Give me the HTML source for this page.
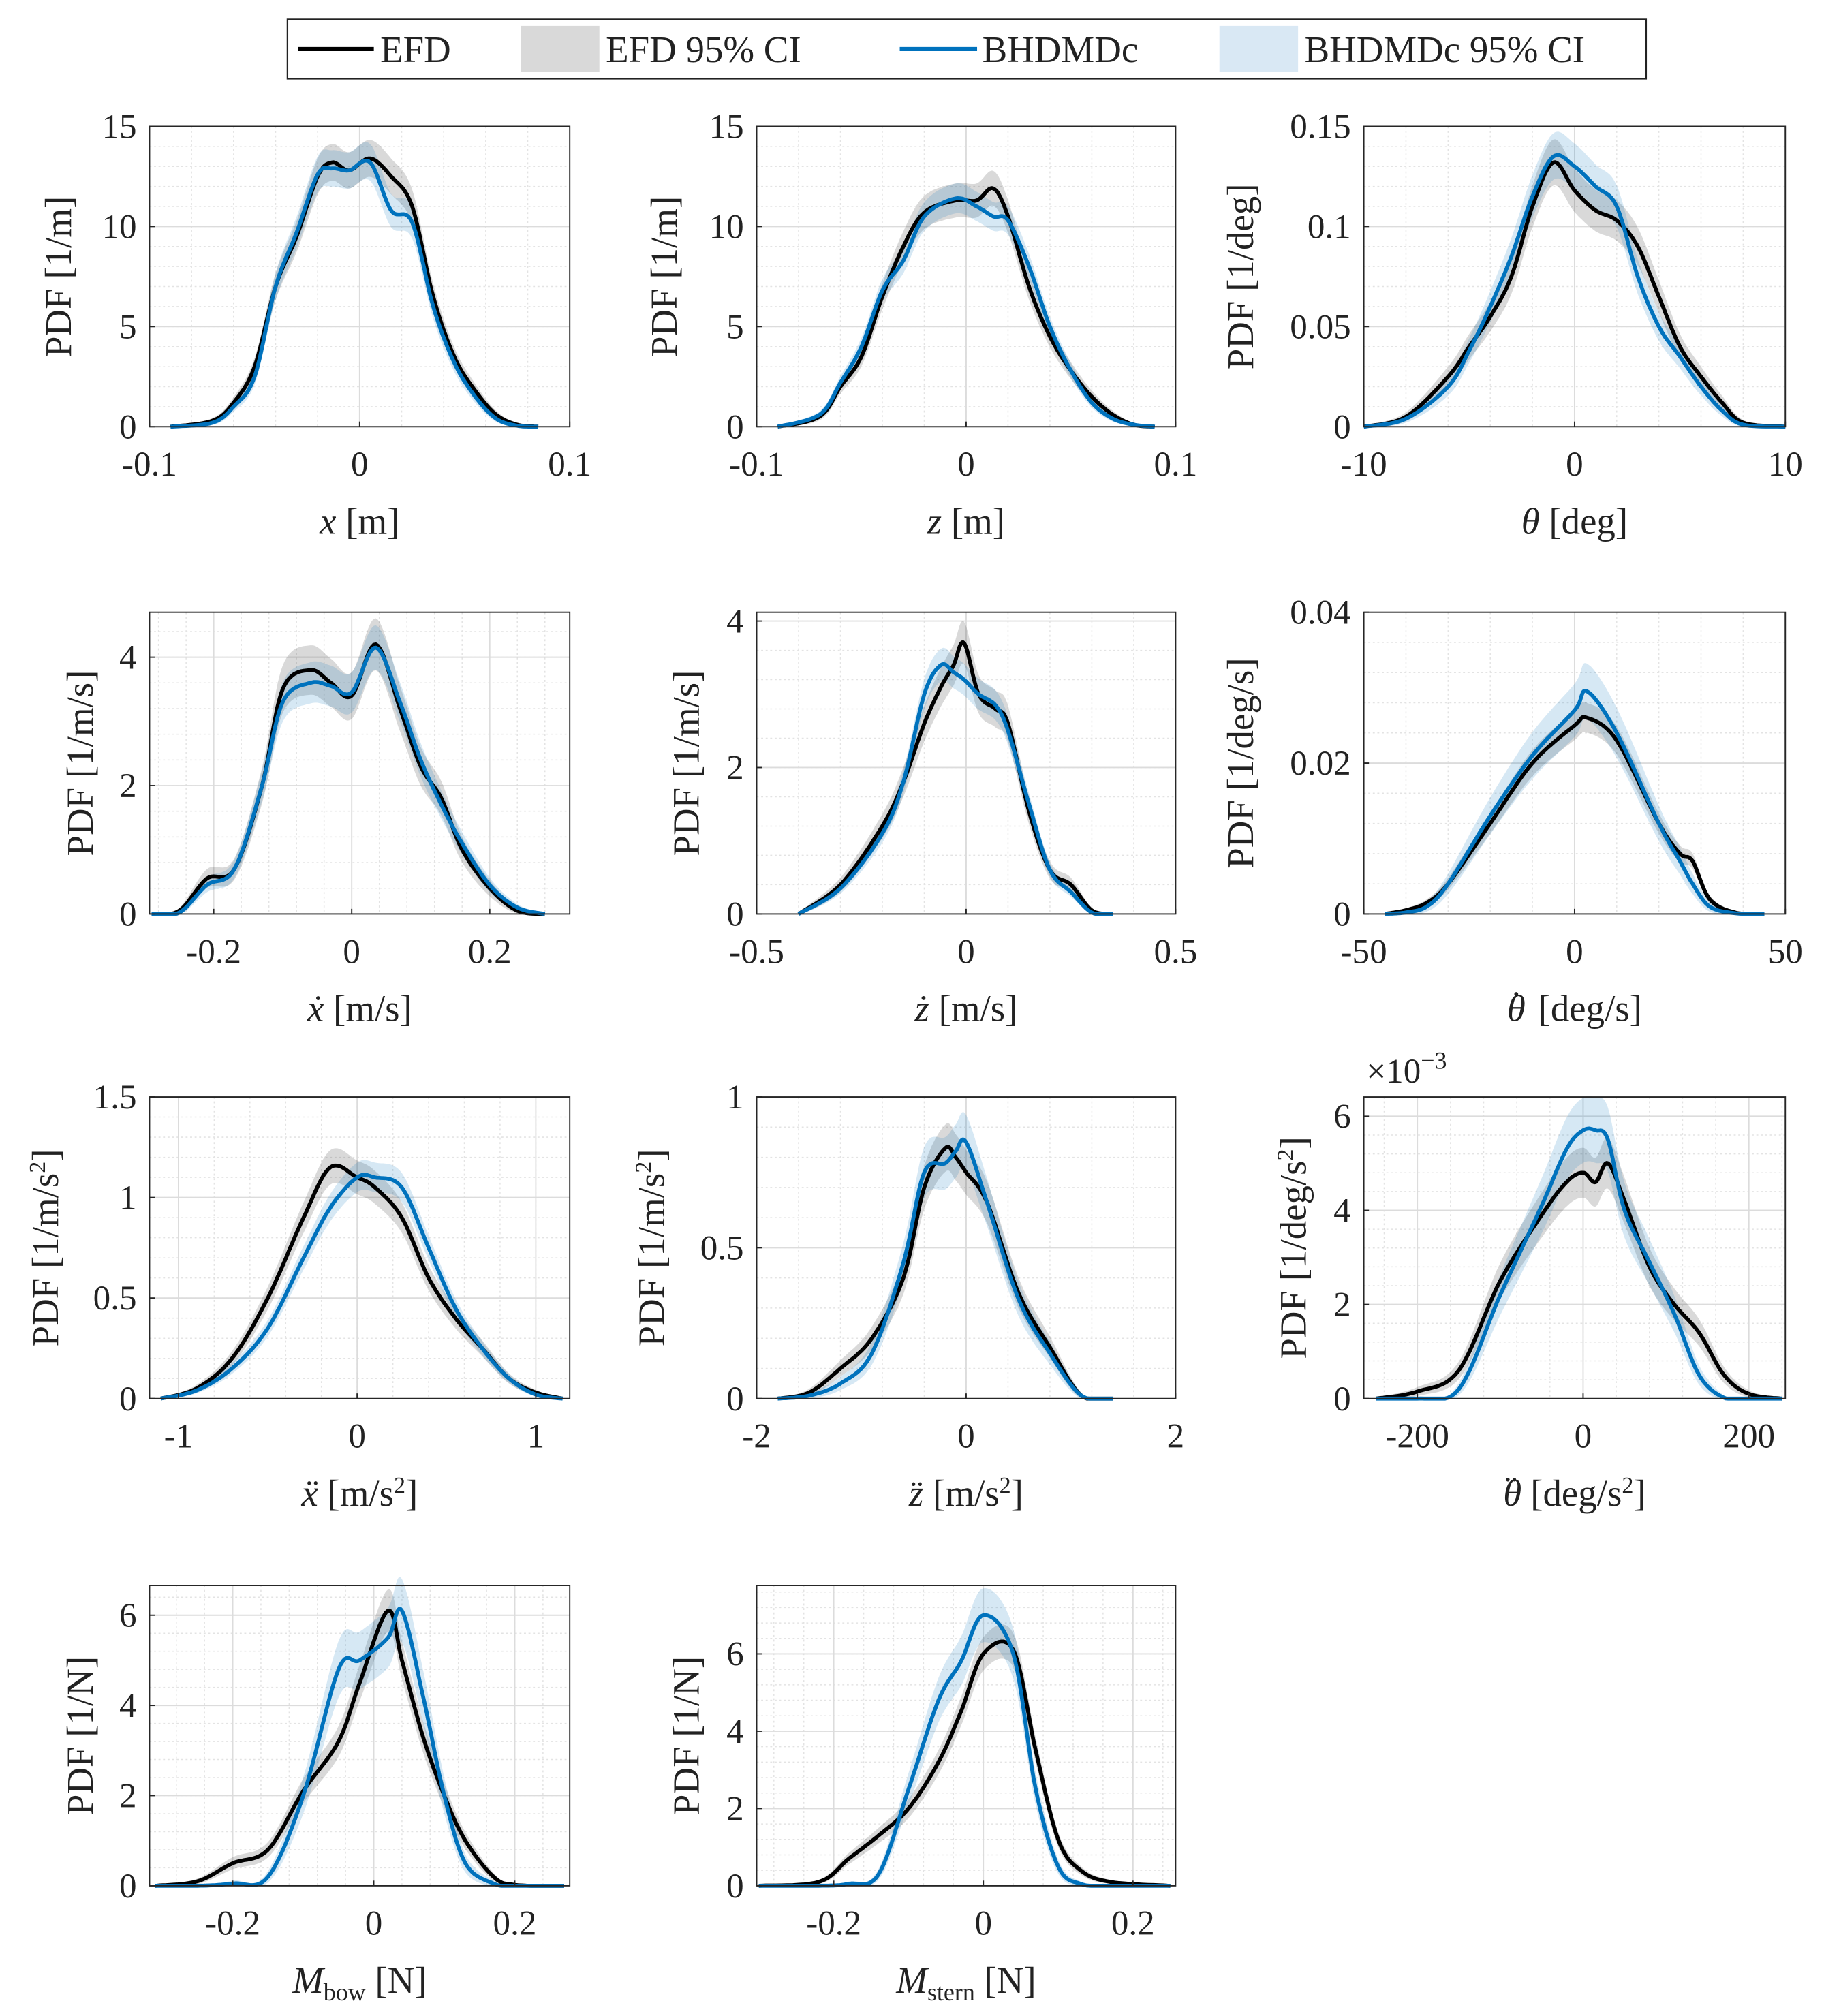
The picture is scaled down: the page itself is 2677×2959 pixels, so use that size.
<!DOCTYPE html>
<html><head><meta charset="utf-8"><style>
html,body{margin:0;padding:0;background:#fff}
svg{display:block}
text{font-family:"Liberation Serif","DejaVu Serif",serif;fill:#222}
</style></head><body>
<svg id="fig" width="2677" height="2959" viewBox="0 0 1415 1564" xmlns="http://www.w3.org/2000/svg">
<g>
<rect x="223" y="15" width="1054" height="46" fill="#fff" stroke="#222" stroke-width="1.2"/>
<line x1="231" y1="38" x2="290" y2="38" stroke="#000" stroke-width="3.2"/>
<text x="295" y="48" font-size="29">EFD</text>
<rect x="404" y="20" width="61" height="36" fill="#d9d9d9"/>
<text x="470" y="48" font-size="29">EFD 95% CI</text>
<line x1="698" y1="38" x2="758" y2="38" stroke="#0072BD" stroke-width="3.2"/>
<text x="762" y="48" font-size="29">BHDMDc</text>
<rect x="946" y="20" width="61" height="36" fill="#d9e8f4"/>
<text x="1012" y="48" font-size="29">BHDMDc 95% CI</text>
</g>
</svg>
<script>
// ---- data (each panel: x grid, EFD pdf, BHDMDc pdf) ----
const p1x=[-0.09,-0.07,-0.06,-0.05,-0.04,-0.03,-0.02,-0.013,-0.005,0.005,0.015,0.025,0.035,0.045,0.055,0.065,0.075,0.085];
const p1e=[0,0.3,1.2,3,7,9.5,12.5,13.2,12.8,13.4,12.5,11,6.5,3.5,1.8,0.6,0.1,0];
const p1b=[0,0.2,1,2.5,7,9.7,12.6,12.9,12.8,13.2,10.8,10.2,6,3.2,1.5,0.4,0.05,0];
const p2x=[-0.09,-0.07,-0.06,-0.05,-0.04,-0.03,-0.02,-0.005,0.005,0.013,0.02,0.03,0.04,0.05,0.06,0.07,0.08,0.09];
const p2e=[0,0.5,2,3.5,6.5,9,10.7,11.3,11.3,11.9,10.5,7,4.5,2.8,1.5,0.6,0.1,0];
const p2b=[0,0.6,2.2,4,6.8,8.3,10.5,11.4,11,10.5,10.3,8,5,2.8,1.2,0.4,0.1,0];
const p3x=[-10,-8,-6,-5,-4,-3,-2,-1,0,1,2,3,4,5,6,7,8,10];
const p3e=[0,0.005,0.025,0.04,0.055,0.075,0.11,0.132,0.118,0.108,0.103,0.09,0.065,0.04,0.025,0.012,0.002,0];
const p3b=[0,0.004,0.02,0.038,0.06,0.085,0.115,0.135,0.13,0.12,0.11,0.075,0.05,0.035,0.02,0.008,0.001,0];
const p4x=[-0.29,-0.25,-0.21,-0.17,-0.13,-0.1,-0.06,-0.03,0,0.035,0.07,0.1,0.13,0.16,0.2,0.24,0.28];
const p4e=[0,0.05,0.55,0.7,2,3.5,3.8,3.6,3.4,4.2,3.2,2.3,1.8,1.0,0.4,0.05,0];
const p4b=[0,0.02,0.45,0.7,2,3.3,3.6,3.55,3.45,4.15,3.3,2.4,1.7,1.1,0.45,0.1,0];
const p5x=[-0.4,-0.3,-0.2,-0.15,-0.1,-0.06,-0.03,-0.005,0.03,0.07,0.1,0.15,0.2,0.25,0.3,0.35];
const p5e=[0,0.4,1.2,1.8,2.6,3.1,3.4,3.7,3.0,2.8,2.6,1.4,0.6,0.4,0.05,0];
const p5b=[0,0.35,1.1,1.8,3.0,3.4,3.3,3.2,3.0,2.85,2.5,1.5,0.6,0.3,0.02,0];
const p6x=[-45,-40,-35,-30,-20,-10,0,3,10,20,25,28,32,38,45];
const p6e=[0,0.0005,0.0015,0.004,0.012,0.02,0.025,0.026,0.023,0.012,0.008,0.007,0.002,0.0002,0];
const p6b=[0,0.0002,0.001,0.004,0.013,0.021,0.027,0.0295,0.024,0.012,0.007,0.004,0.001,0.0001,0];
const p7x=[-1.1,-0.9,-0.7,-0.5,-0.3,-0.15,0,0.1,0.25,0.4,0.55,0.7,0.85,1.0,1.15];
const p7e=[0,0.05,0.2,0.5,0.9,1.15,1.1,1.05,0.9,0.6,0.4,0.25,0.1,0.03,0];
const p7b=[0,0.04,0.15,0.35,0.7,0.95,1.1,1.1,1.05,0.75,0.45,0.25,0.1,0.02,0];
const p8x=[-1.8,-1.5,-1.2,-0.9,-0.6,-0.4,-0.2,-0.1,0,0.2,0.5,0.8,1.1,1.4];
const p8e=[0,0.02,0.1,0.2,0.4,0.7,0.83,0.8,0.75,0.65,0.35,0.17,0.01,0];
const p8b=[0,0.01,0.05,0.15,0.45,0.75,0.78,0.82,0.85,0.65,0.33,0.15,0.01,0];
const p9x=[-250,-200,-150,-100,-50,-20,0,15,30,50,80,110,140,170,200,240];
const p9e=[0,0.15,0.6,2.5,3.9,4.6,4.8,4.6,5.0,4.2,2.8,2.0,1.4,0.5,0.1,0];
const p9b=[0,0,0.2,2.2,4.1,5.3,5.7,5.7,5.5,4.0,2.9,1.8,0.5,0.02,0,0];
const p10x=[-0.31,-0.25,-0.2,-0.15,-0.1,-0.05,-0.02,0.02,0.04,0.07,0.1,0.13,0.17,0.2,0.27];
const p10e=[0,0.1,0.5,0.8,2.1,3.2,4.5,6.1,5.0,3.3,2.0,1.0,0.2,0.02,0];
const p10b=[0,0,0.05,0.2,2.0,4.8,5.0,5.5,6.1,4.2,2.0,0.5,0.05,0,0];
const p11x=[-0.3,-0.22,-0.18,-0.14,-0.1,-0.06,-0.03,0,0.04,0.07,0.1,0.13,0.17,0.25];
const p11e=[0,0.1,0.7,1.3,2,3.2,4.5,6.0,6.1,3.5,1.2,0.4,0.1,0];
const p11b=[0,0,0.05,0.3,2.5,4.8,5.8,7.0,6.0,2.5,0.5,0.05,0,0];
// CI half-widths at peak (EFD, BHDMDc)
const ciE=[0.8,0.8,0.01,0.35,0.25,0.002,0.08,0.07,0.5,0.4,0.4];
const ciB=[0.8,0.7,0.01,0.3,0.2,0.0035,0.07,0.08,0.6,0.6,0.6];
// tick labels
const xt1=[-0.1,0,0.1],xt3=[-10,0,10],xt4=[-0.2,0,0.2],xt5=[-0.5,0,0.5],xt6=[-50,0,50],xt7=[-1,0,1],xt8=[-2,0,2],xt9=[-200,0,200],xt10=[-0.2,0,0.2];
const yt1=[0,5,10,15],yt3=[0,0.05,0.1,0.15],yt4=[0,2,4],yt6=[0,0.02,0.04],yt7=[0,0.5,1,1.5],yt8=[0,0.5,1],yt9=[0,2,4,6],yt11=[0,2,4,6];

const NS="http://www.w3.org/2000/svg";
const svg=document.getElementById('fig');
function mk(tag,attrs,parent){const e=document.createElementNS(NS,tag);for(const k in attrs)e.setAttribute(k,attrs[k]);(parent||svg).appendChild(e);return e;}
const sup='<tspan font-size="18" dy="-10">2</tspan><tspan dy="10">]</tspan>';
const thd='<tspan font-style="italic">θ</tspan><tspan dx="-12" dy="-3">˙</tspan><tspan dx="5" dy="3"> [deg/s';
const thdd='<tspan font-style="italic">θ</tspan><tspan dx="-13" dy="-3">¨</tspan><tspan dx="3" dy="3"> [deg/s';

const panels=[
 {n:'x',L:116,R:442,T:98,B:331,xl:[-0.1,0.1],yl:[0,15],xs:p1x,e:p1e,b:p1b,xt:xt1,yt:yt1,yx:45,ylab:'PDF [1/m]',xlab:'<tspan font-style="italic">x</tspan> [m]'},
 {n:'z',L:587,R:912,T:98,B:331,xl:[-0.1,0.1],yl:[0,15],xs:p2x,e:p2e,b:p2b,xt:xt1,yt:yt1,yx:515,ylab:'PDF [1/m]',xlab:'<tspan font-style="italic">z</tspan> [m]'},
 {n:'theta',L:1058,R:1385,T:98,B:331,xl:[-10,10],yl:[0,0.15],xs:p3x,e:p3e,b:p3b,xt:xt3,yt:yt3,yx:962,ylab:'PDF [1/deg]',xlab:'<tspan font-style="italic">θ</tspan> [deg]'},
 {n:'x-dot',L:116,R:442,T:475,B:709,xl:[-0.293,0.316],yl:[0,4.7],xs:p4x,e:p4e,b:p4b,xt:xt4,yt:yt4,yx:62,ylab:'PDF [1/m/s]',xlab:'<tspan font-style="italic">ẋ</tspan> [m/s]'},
 {n:'z-dot',L:587,R:912,T:475,B:709,xl:[-0.5,0.5],yl:[0,4.12],xs:p5x,e:p5e,b:p5b,xt:xt5,yt:yt4,yx:532,ylab:'PDF [1/m/s]',xlab:'<tspan font-style="italic">ż</tspan> [m/s]'},
 {n:'theta-dot',L:1058,R:1385,T:475,B:709,xl:[-50,50],yl:[0,0.04],xs:p6x,e:p6e,b:p6b,xt:xt6,yt:yt6,yx:962,ylab:'PDF [1/deg/s]',xlab:thd+']</tspan>'},
 {n:'x-ddot',L:116,R:442,T:851,B:1085,xl:[-1.162,1.19],yl:[0,1.5],xs:p7x,e:p7e,b:p7b,xt:xt7,yt:yt7,yx:35,ylab:'PDF [1/m/s'+sup,xlab:'<tspan font-style="italic">ẍ</tspan> [m/s'+sup},
 {n:'z-ddot',L:587,R:912,T:851,B:1085,xl:[-2,2],yl:[0,1],xs:p8x,e:p8e,b:p8b,xt:xt8,yt:yt8,yx:505,ylab:'PDF [1/m/s'+sup,xlab:'<tspan font-style="italic">z̈</tspan> [m/s'+sup},
 {n:'theta-ddot',L:1058,R:1385,T:851,B:1085,xl:[-264.6,244],yl:[0,6.41],xs:p9x,e:p9e,b:p9b,xt:xt9,yt:yt9,yx:1003,ylab:'PDF [1/deg/s'+sup,xlab:thdd+'</tspan>'+sup},
 {n:'m-bow',L:116,R:442,T:1230,B:1463,xl:[-0.318,0.278],yl:[0,6.66],xs:p10x,e:p10e,b:p10b,xt:xt10,yt:yt9,yx:62,ylab:'PDF [1/N]',xlab:'<tspan font-style="italic">M</tspan><tspan font-size="19" dy="6">bow</tspan><tspan dy="-6"> [N]</tspan>'},
 {n:'m-stern',L:587,R:912,T:1230,B:1463,xl:[-0.303,0.257],yl:[0,7.77],xs:p11x,e:p11e,b:p11b,xt:xt10,yt:yt11,yx:532,ylab:'PDF [1/N]',xlab:'<tspan font-style="italic">M</tspan><tspan font-size="19" dy="6">stern</tspan><tspan dy="-6"> [N]</tspan>'}
];

function spline(xs,ys){
 const out=[];
 for(let i=0;i<xs.length-1;i++){
  const x0=xs[Math.max(i-1,0)],y0=ys[Math.max(i-1,0)],x1=xs[i],y1=ys[i],x2=xs[i+1],y2=ys[i+1],x3=xs[Math.min(i+2,xs.length-1)],y3=ys[Math.min(i+2,xs.length-1)];
  for(let s=0;s<12;s++){const t=s/12,t2=t*t,t3=t2*t;
   const f=(a,b,c,d)=>0.5*((2*b)+(-a+c)*t+(2*a-5*b+4*c-d)*t2+(-a+3*b-3*c+d)*t3);
   out.push([f(x0,x1,x2,x3),Math.max(0,f(y0,y1,y2,y3))]);}
 }
 out.push([xs[xs.length-1],ys[ys.length-1]]);
 return out;
}

panels.forEach((p,pi)=>{
 const g=mk('g',{});
 
 
 const sx=v=>p.L+(v-p.xl[0])/(p.xl[1]-p.xl[0])*(p.R-p.L);
 const sy=v=>p.B-(v-p.yl[0])/(p.yl[1]-p.yl[0])*(p.B-p.T);
 mk('rect',{x:p.L,y:p.T,width:p.R-p.L,height:p.B-p.T,fill:'#fff'},g);
 const xs=p.xt[1]-p.xt[0], ys=p.yt[1]-p.yt[0];
 for(let v=p.xt[0]-xs;v<=p.xl[1];v+=xs/5){if(v>p.xl[0]&&v<p.xl[1])mk('line',{x1:sx(v),x2:sx(v),y1:p.T,y2:p.B,stroke:'#e3e3e3','stroke-width':0.8,'stroke-dasharray':'1.5,2'},g);}
 for(let v=0;v<=p.yl[1];v+=ys/5){mk('line',{x1:p.L,x2:p.R,y1:sy(v),y2:sy(v),stroke:'#e3e3e3','stroke-width':0.8,'stroke-dasharray':'1.5,2'},g);}
 p.xt.forEach(v=>mk('line',{x1:sx(v),x2:sx(v),y1:p.T,y2:p.B,stroke:'#dcdcdc','stroke-width':1},g));
 p.yt.forEach(v=>mk('line',{x1:p.L,x2:p.R,y1:sy(v),y2:sy(v),stroke:'#dcdcdc','stroke-width':1},g));
 const series=[[p.e,ciE[pi],'rgba(0,0,0,0.15)','#000','efd'],[p.b,ciB[pi],'rgba(0,114,189,0.16)','#0072BD','bhdmdc']];
 const ymax=p.yl[1];
 series.forEach(([ys_,ci,fill,col,nm])=>{
  const pts=spline(p.xs,ys_);
  const up=pts.map(([x,y])=>[x,y+ci*Math.sqrt(y/ymax*1.5)]);
  const lo=pts.map(([x,y])=>[x,Math.max(0,y-ci*Math.sqrt(y/ymax*1.5))]);
  const d='M'+up.map(q=>sx(q[0]).toFixed(1)+','+sy(q[1]).toFixed(1)).join('L')+'L'+lo.reverse().map(q=>sx(q[0]).toFixed(1)+','+sy(q[1]).toFixed(1)).join('L')+'Z';
  const band=mk('path',{d:d,fill:fill,stroke:'none'},g);
  
  
 });
 series.forEach(([ys_,ci,fill,col,nm])=>{
  const pts=spline(p.xs,ys_);
  const line=mk('path',{d:'M'+pts.map(q=>sx(q[0]).toFixed(1)+','+sy(q[1]).toFixed(1)).join('L'),fill:'none',stroke:col,'stroke-width':3,'stroke-linejoin':'round'},g);
  
  
 });
 mk('rect',{x:p.L,y:p.T,width:p.R-p.L,height:p.B-p.T,fill:'none',stroke:'#262626','stroke-width':1},g);
 p.xt.forEach(v=>{mk('line',{x1:sx(v),x2:sx(v),y1:p.B,y2:p.B-4,stroke:'#262626'},g);
  const t=mk('text',{x:sx(v),y:p.B+38,'font-size':27,'text-anchor':'middle'},g);t.textContent=String(v);
  
  });
 p.yt.forEach(v=>{mk('line',{x1:p.L,x2:p.L+4,y1:sy(v),y2:sy(v),stroke:'#262626'},g);
  const t=mk('text',{x:p.L-10,y:sy(v)+9,'font-size':27,'text-anchor':'end'},g);t.textContent=String(v);
  
  });
 const xl=mk('text',{x:(p.L+p.R)/2,y:p.B+83,'font-size':29,'text-anchor':'middle'},g);xl.innerHTML=p.xlab;
 
 
 const cy=(p.T+p.B)/2;
 const yl=mk('text',{x:p.yx,y:cy,'font-size':29,'text-anchor':'middle',transform:`rotate(-90 ${p.yx} ${cy})`,dy:10},g);yl.innerHTML=p.ylab;
 
 
});
const ex=mk('text',{x:1060,y:840,'font-size':27});
ex.innerHTML='×10<tspan font-size="19" dy="-11">−3</tspan>';


</script>
</body></html>
